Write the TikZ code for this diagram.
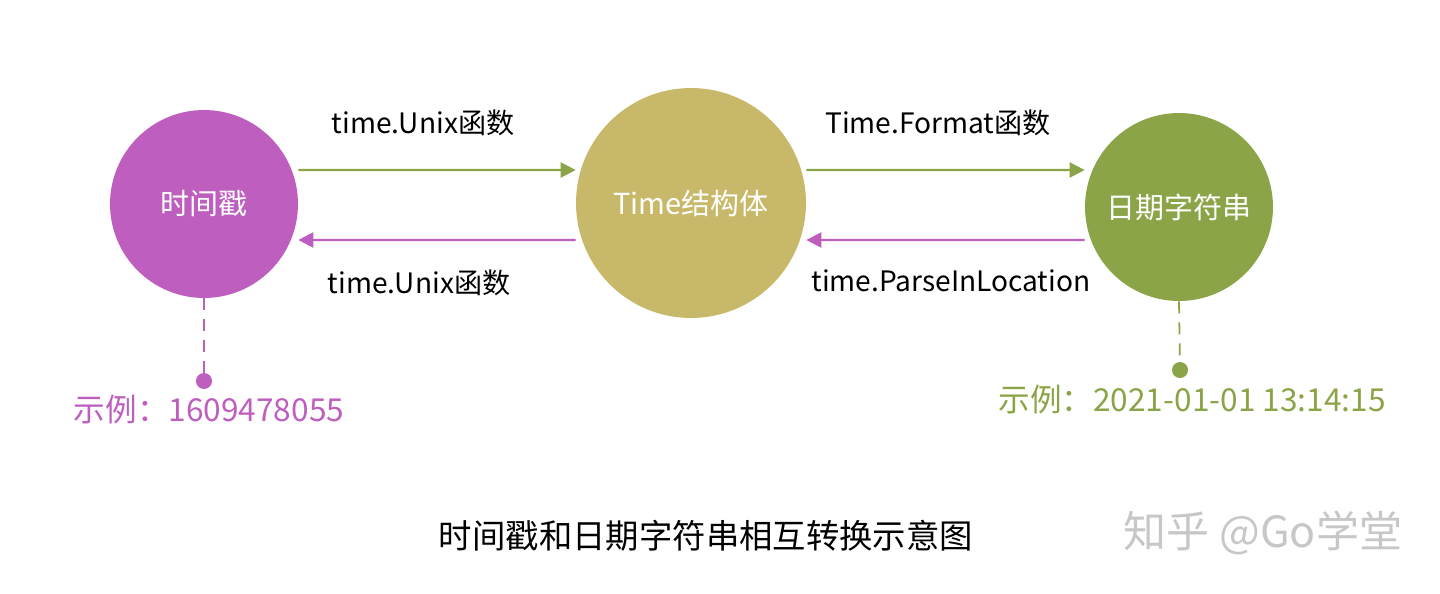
\documentclass[tikz,border=0pt]{standalone}
\usepackage{fontspec}
\setmainfont{Noto Sans CJK SC}
\usetikzlibrary{arrows.meta}
\definecolor{tspurple}{HTML}{BE5FBF}
\definecolor{tmkhaki}{HTML}{C8B96A}
\definecolor{dsgreen}{HTML}{8BA447}

\begin{document}
\begin{tikzpicture}[x=0.02cm,y=-0.02cm,
	main node/.style={circle, inner sep=0pt, text=white, font=\fontsize{16.5}{19}\selectfont},
	fwd/.style={-{Triangle[length=0.3cm,width=0.3cm]}, line width=1.3pt, dsgreen},
	back/.style={-{Triangle[length=0.3cm,width=0.3cm]}, line width=1.3pt, tspurple},
	fn label/.style={font=\fontsize{16}{19}\selectfont},
	dot/.style={circle, inner sep=0pt, minimum size=0.32cm}]
			\useasboundingbox (0,0) rectangle (1440,593);
			% Nodes
			\node[main node, fill=tspurple, minimum size=3.76cm] (ts) at (204,204) {时间戳};
			\node[main node, fill=tmkhaki, minimum size=4.6cm] (tm) at (691,203) {Time结构体};
			\node[main node, fill=dsgreen, minimum size=3.76cm] (ds) at (1179,207) {日期字符串};
			
			% Arrows
			\draw[fwd] ([yshift=0.68cm]ts.east) -- ([yshift=0.66cm]tm.west);
			\draw[back] ([yshift=-0.74cm]tm.west) -- ([yshift=-0.72cm]ts.east);
			\draw[fwd] ([yshift=0.66cm]tm.east) -- ([yshift=0.74cm]ds.west);
			\draw[back] ([yshift=-0.66cm]ds.west) -- ([yshift=-0.74cm]tm.east);
			
			\node[fn label] (l1) at (423,123) {time.Unix函数};
			\node[fn label] (l2) at (419,283) {time.Unix函数};
			\node[fn label] (l3) at (938,123) {Time.Format函数};
			\node[fn label] (l4) at (951,281) {time.ParseInLocation};
			
			% Examples
			\node[dot, fill=tspurple] (tsdot) at (204,381) {};
			\node[dot, fill=dsgreen] (dsdot) at (1180,370) {};
			\draw[tspurple, line width=1pt, dash pattern=on 0.24cm off 0.18cm] (ts.south) -- (tsdot);
			\draw[dsgreen, line width=1pt, dash pattern=on 0.24cm off 0.18cm] (ds.south) -- (dsdot);
			\node[text=tspurple, font=\fontsize{18}{21}\selectfont] (tsex) at (209,410) {示例：1609478055};
			\node[text=dsgreen, font=\fontsize{18}{21}\selectfont] (dsex) at (1192,400) {示例：2021-01-01 13:14:15};
			
			% Caption
			\node[font=\fontsize{19}{22}\selectfont] (cap) at (706,536) {时间戳和日期字符串相互转换示意图};
			\node[text=black!22, font=\fontsize{24.5}{28}\selectfont] (wm) at (1263,533) {知乎 @Go学堂};
			
		\end{tikzpicture}
\end{document}
